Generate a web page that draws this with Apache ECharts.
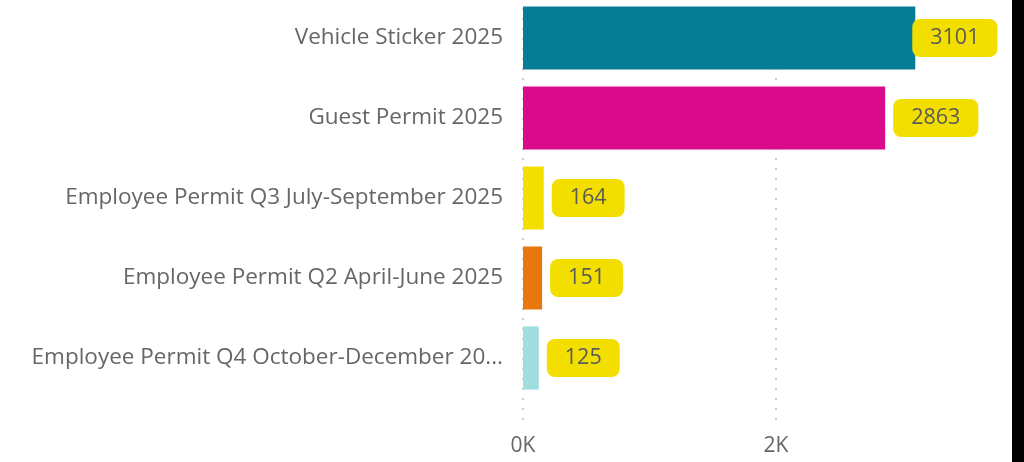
<!DOCTYPE html>
<html>
<head>
<meta charset="utf-8">
<script src="https://cdn.jsdelivr.net/npm/echarts@6/dist/echarts.min.js"></script>
<style>
  html, body { margin: 0; padding: 0; background: #000; }
  #bar { width: 1012px; height: 462px; background: #fff; }
</style>
</head>
<body>
<div id="bar"></div>
<script>
  // permit counts, top to bottom
  const categories = [
    'Vehicle Sticker 2025',
    'Guest Permit 2025',
    'Employee Permit Q3 July-September 2025',
    'Employee Permit Q2 April-June 2025',
    'Employee Permit Q4 October-December 2025'
  ]
  const counts = [3101, 2863, 164, 151, 125]
  const barColors = ['#067D95', '#D90B8A', '#F2DF00', '#E8780C', '#A0DEDE']
  const xTicks = [0, 2000]

  const font = 'Open Sans, Noto Sans, sans-serif'
  let bar = echarts.init(document.getElementById('bar'))
  bar.setOption({
    animation: false,
    grid: [
      { left: 523, width: 506, top: -2, height: 400, outerBoundsMode: 'none' },
      { left: 523, width: 506, top: -2, height: 427, outerBoundsMode: 'none' }
    ],
    xAxis: [
      {
        gridIndex: 0, type: 'value', min: 0, max: 4000, interval: 2000,
        axisLabel: { show: false }, axisLine: { show: false },
        axisTick: { show: false }, splitLine: { show: false }
      },
      {
        gridIndex: 1, type: 'value', min: xTicks[0], max: 4000, interval: xTicks[1] - xTicks[0],
        axisLine: { show: false },
        axisTick: { show: false },
        axisLabel: {
          margin: 11,
          color: '#666',
          fontSize: 21,
          fontFamily: font,
          formatter: v => (v / 1000) + 'K'
        },
        splitLine: {
          lineStyle: { color: '#cccccc', width: 2, type: [2, 8] }
        }
      }
    ],
    yAxis: [
      {
        gridIndex: 0,
        type: 'category',
        inverse: true,
        data: categories,
        axisLine: { show: false },
        axisTick: { show: false },
        axisLabel: {
          margin: 20,
          color: '#666',
          fontSize: 22.5,
          fontFamily: font,
          width: 478,
          overflow: 'truncate',
          ellipsis: '...'
        }
      },
      { gridIndex: 1, type: 'value', show: false }
    ],
    series: [
      {
        type: 'bar',
        xAxisIndex: 0,
        yAxisIndex: 0,
        barCategoryGap: '21%',
        data: counts.map((v, i) => ({
          value: v,
          itemStyle: { color: barColors[i] },
          // biggest label is pulled back onto the bar end
          label: { distance: v === Math.max(...counts) ? -3 : 8 }
        })),
        label: {
          show: true,
          position: 'right',
          color: '#5a5a5a',
          fontSize: 21.5,
          fontFamily: font,
          lineHeight: 24,
          backgroundColor: '#F2DF00',
          borderRadius: 8,
          padding: [7, 18]
        }
      }
    ]
  })
</script>
</body>
</html>
